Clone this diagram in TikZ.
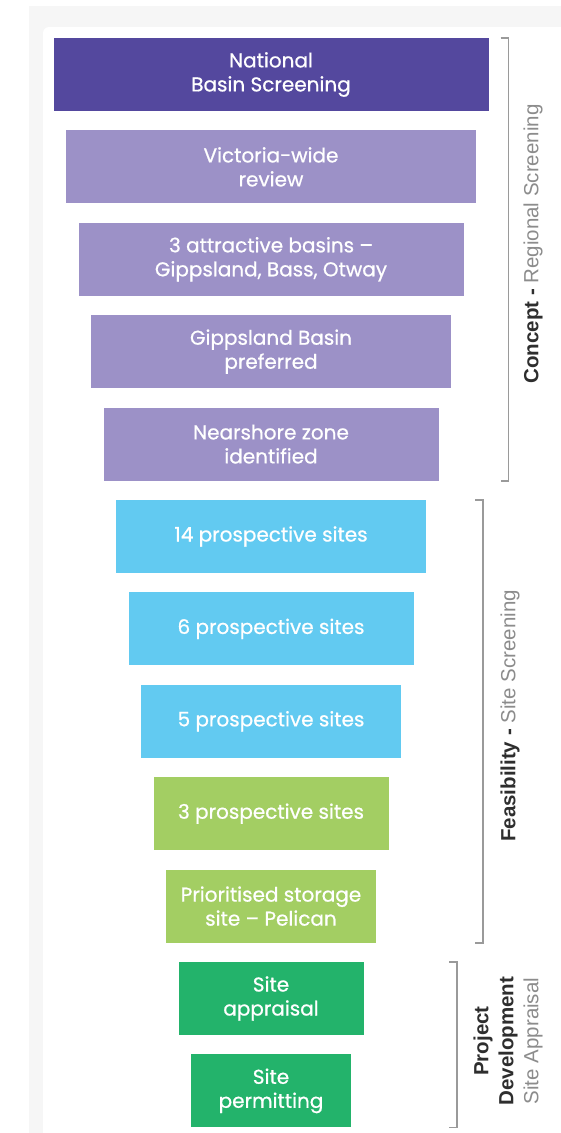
\documentclass[tikz,border=0pt]{standalone}
\usepackage{fontspec}
\setmainfont{Poppins}
\newfontfamily\boxfont{Poppins}[FakeBold=0.7]
\newfontfamily\labelfont{Liberation Sans}
\usetikzlibrary{positioning}

\definecolor{natpurple}{HTML}{54489E}
\definecolor{regpurple}{HTML}{9C91C7}
\definecolor{sitecyan}{HTML}{62CAF1}
\definecolor{sitegreen}{HTML}{A3CE63}
\definecolor{devgreen}{HTML}{23B36B}
\definecolor{framegray}{HTML}{F6F6F6}
\definecolor{bracketgray}{HTML}{9A9A9A}
\definecolor{labeldark}{HTML}{2E2E2E}
\definecolor{labelgray}{HTML}{8C8C8C}

\tikzset{
    stage/.style={rectangle, minimum height=73pt, inner sep=0pt, text=white,
        align=center, font=\boxfont\fontsize{20}{24}\selectfont},
    bracket/.style={draw=bracketgray, line width=1.4pt},
    phase/.style={rotate=90, align=center, text=labeldark,
        font=\labelfont\fontsize{20.5}{25}\selectfont}
}

\begin{document}
\begin{tikzpicture}[x=1pt, y=1pt, node distance=19pt]
    % page and frame
    \useasboundingbox (0,0) rectangle (561,-1133);
    \fill[white] (0,0) rectangle (561,-1133);
    \fill[framegray] (29,-6) rectangle (561,-1133);
    \fill[white, rounded corners=6pt] (43,-27) rectangle (570,-1140);

    % funnel of stages
    \node[stage, fill=natpurple, minimum width=435pt] (national) at (271,-74.5) {National\\Basin Screening};
    \node[stage, fill=regpurple, minimum width=410pt, below=of national] (victoria) {Victoria-wide\\review};
    \node[stage, fill=regpurple, minimum width=385pt, below=of victoria] (basins) {3 attractive basins –\\Gippsland, Bass, Otway};
    \node[stage, fill=regpurple, minimum width=360pt, below=of basins] (gippsland) {Gippsland Basin\\preferred};
    \node[stage, fill=regpurple, minimum width=335pt, below=of gippsland] (nearshore) {Nearshore zone\\identified};
    \node[stage, fill=sitecyan, minimum width=310pt, below=of nearshore] (sites14) {14 prospective sites};
    \node[stage, fill=sitecyan, minimum width=285pt, below=of sites14] (sites6) {6 prospective sites};
    \node[stage, fill=sitecyan, minimum width=260pt, below=of sites6] (sites5) {5 prospective sites};
    \node[stage, fill=sitegreen, minimum width=235pt, below=of sites5] (sites3) {3 prospective sites};
    \node[stage, fill=sitegreen, minimum width=210pt, below=of sites3] (pelican) {Prioritised storage\\site – Pelican};
    \node[stage, fill=devgreen, minimum width=185pt, below=of pelican] (appraisal) {Site\\appraisal};
    \node[stage, fill=devgreen, minimum width=160pt, below=of appraisal] (permitting) {Site\\permitting};

    % phase brackets
    \coordinate (concepttop) at ([xshift=20pt]national.north east);
    \coordinate (conceptbot) at (concepttop |- nearshore.south);
    \draw[bracket] ([xshift=-8pt]concepttop) -- (concepttop) -- (conceptbot) -- ([xshift=-8pt]conceptbot);
    \coordinate (feastop) at (483,0 |- sites14.north);
    \coordinate (feasbot) at (feastop |- pelican.south);
    \draw[bracket] ([xshift=-8pt]feastop) -- (feastop) -- (feasbot) -- ([xshift=-8pt]feasbot);
    \coordinate (devtop) at (457,0 |- appraisal.north);
    \coordinate (devbot) at (devtop |- permitting.south);
    \draw[bracket] ([xshift=-8pt]devtop) -- (devtop) -- (devbot) -- ([xshift=-8pt]devbot);

    % phase labels
    \node[phase] (concept) at (533,-244) {\textbf{Concept -} \textcolor{labelgray}{Regional Screening}};
    \node[phase] (feasibility) at (510,-716) {\textbf{Feasibility -} \textcolor{labelgray}{Site Screening}};
    \node[phase] (development) at (508,-1041) {\textbf{Project}\\\textbf{Development}\\\textcolor{labelgray}{Site Appraisal}};
\end{tikzpicture}
\end{document}
